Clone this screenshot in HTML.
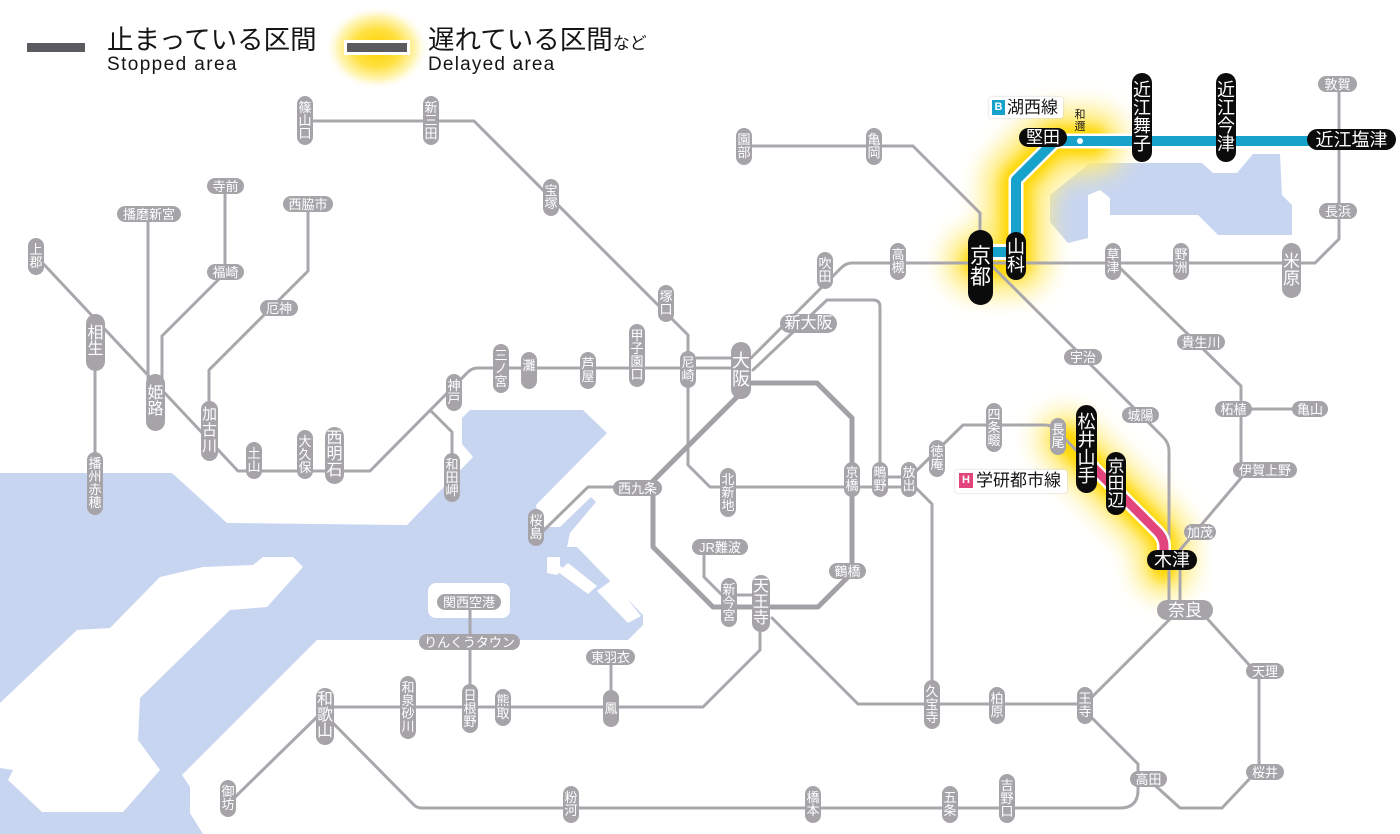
<!DOCTYPE html>
<html><head><meta charset="utf-8">
<style>
html,body{margin:0;padding:0;background:#fff}
#w{position:relative;width:1400px;height:834px;overflow:hidden;background:#fff;font-family:"Liberation Sans","Noto Sans CJK JP",sans-serif}
svg{position:absolute;left:0;top:0}
.p{position:absolute;box-sizing:border-box;background:#a6a4a8;color:#fff;border-radius:999px;text-align:center;white-space:nowrap;display:flex;align-items:center;justify-content:center;line-height:1;font-size:13px;height:16px}
.v{display:block;white-space:normal;word-break:break-all;width:16px;font-size:13px;line-height:13px}
.k{background:#0b0b0b}
.t{position:absolute;white-space:nowrap;color:#151515;line-height:1}
</style></head><body><div id="w">
<svg width="1400" height="834" viewBox="0 0 1400 834">
<defs>
<filter id="g1" x="-50%" y="-50%" width="200%" height="200%"><feGaussianBlur stdDeviation="12"/></filter>
<filter id="g2" x="-50%" y="-50%" width="200%" height="200%"><feGaussianBlur stdDeviation="6"/></filter>
<radialGradient id="rg"><stop offset="0" stop-color="#ffd200"/><stop offset="0.45" stop-color="#ffe040"/><stop offset="0.75" stop-color="#fff2a0" stop-opacity="0.8"/><stop offset="1" stop-color="#fff" stop-opacity="0"/></radialGradient>
</defs>
<!-- sea -->
<path fill="#c8d5f1" d="M0,473 L172,473 L227,523 L407,525 L473,457 L462,444 L462,418 L470,410 L583,410 L607,433 L536,505 L540,527 L560,527 L591,497 L596,502 L570,533 L567,547 L577,547 L643,615 L643,625 L628,640 L317,640 L182,775 L190,787 L190,813 L203,834 L0,834 Z"/>
<path fill="#fff" d="M0,703 L77,630 L110,628 L160,577 L203,567 L253,565 L263,557 L293,557 L303,567 L267,607 L230,610 L140,698 L138,740 L160,770 L123,812 L42,812 L8,780 L13,770 L0,768 Z"/>
<rect x="428" y="583" width="82" height="35" rx="8" fill="#fff"/>
<path fill="#fff" d="M547,557 L560,557 L560,566 L563,568 L557,575 L547,573 Z"/>
<path fill="#fff" d="M558,572 L568,563 L597,586 L588,594 Z"/>
<path fill="#fff" d="M597,591 L612,580 L641,616 L628,623 Z"/>
<!-- lake -->
<path fill="#c8d5f1" d="M1090,163 L1202,163 L1213,173 L1237,173 L1253,154 L1280,154 L1282,195 L1292,205 L1292,235 L1218,235 L1198,215 L1110,215 L1110,198 L1100,190 L1088,195 L1088,238 L1068,243 L1050,222 L1050,195 Z"/>
<!-- glows -->
<g fill="none" stroke-linecap="round" stroke-linejoin="round">
<path d="M978,262 H1016 V180 L1055,141 H1092" stroke="#ffec7a" stroke-width="66" filter="url(#g1)"/>
<path d="M978,262 H1016 V180 L1055,141 H1092" stroke="#ffd600" stroke-width="30" filter="url(#g2)"/>
<path d="M1066,440 L1157,531 Q1164,538 1164,546 V568" stroke="#ffec7a" stroke-width="58" filter="url(#g1)"/>
<path d="M1066,440 L1157,531 Q1164,538 1164,546 V568" stroke="#ffd600" stroke-width="26" filter="url(#g2)"/>
</g>
<ellipse cx="377" cy="48" rx="52" ry="42" fill="url(#rg)"/>
<!-- gray lines -->
<g fill="none" stroke="#a9a7ab" stroke-width="3" stroke-linejoin="round" stroke-linecap="round">
<path d="M305,121 H474 L666,313 L688,335 V369"/>
<path d="M688,369 V465 L710,487 H909"/>
<path d="M697,358 H735"/>
<path d="M741,368 H478 Q472,368 468,372 L370,471 H238 L36,256"/>
<path d="M95,342 V483"/>
<path d="M148,214 V402"/>
<path d="M162,402 V336 L225,273 V186"/>
<path d="M209,431 V370 L308,271 V204"/>
<path d="M432,412 L452,432 V477"/>
<path d="M744,146 H913 L980,213 V230"/>
<path d="M751,358 L841,268 Q846,263 852,263 H1315 L1339,239 V84"/>
<path d="M753,370 L827,300 H873 Q880,300 880,307 V477 H909"/>
<path d="M912,484 L932,504 V704"/>
<path d="M990,264 L1163,437 Q1169,443 1169,451 V610"/>
<path d="M772,618 L858,704 H1085 L1172,617"/>
<path d="M1180,612 V550 L1241,478 V386 L1120,268"/>
<path d="M1241,409 H1310"/>
<path d="M1203,614 L1252,668"/>
<path d="M1259,671 V772"/>
<path d="M1255,773 L1222,808 H1180 L1148,779"/>
<path d="M1138,779 V764 L1090,716"/>
<path d="M1138,779 V790 Q1138,808 1120,808 H422 Q417,808 414,805 L328,718"/>
<path d="M320,714 L230,802"/>
<path d="M760,603 V650 L703,707 H325"/>
<path d="M611,708 V657"/>
<path d="M470,708 V602"/>
<path d="M637,487 H588 L540,534"/>
<path d="M704,553 V577 L722,595 H761"/>
<path d="M909,478 L963,425 H1045 Q1052,425 1056,430 L1092,466"/>
</g>
<path d="M751,383 H817 L852,418 V573 L818,607 H713 L653,547 V481 L737,397" fill="none" stroke="#a3a1a5" stroke-width="5" stroke-linejoin="round"/>
<!-- Kosei line -->
<g fill="none" stroke-linejoin="round">
<path d="M990,252 H1010" stroke="#fff" stroke-width="16"/>
<path d="M990,252 H1010" stroke="#16a2cb" stroke-width="10"/>
<path d="M1016,242 V180 L1055,141 H1330" stroke="#fff" stroke-width="15"/>
<path d="M1016,242 V180 L1055,141 H1330" stroke="#16a2cb" stroke-width="10"/>
<path d="M1090,464 L1157,531 Q1164,538 1164,546 V556" stroke="#fff" stroke-width="14"/>
<path d="M1090,464 L1157,531 Q1164,538 1164,546 V556" stroke="#e1457c" stroke-width="9"/>
</g>
<circle cx="1080" cy="141" r="3" fill="#fff"/>
<!-- legend bars -->
<rect x="27" y="43" width="58" height="9" fill="#5b5a5e"/>
<rect x="344" y="40" width="66" height="15" fill="#fff"/>
<rect x="347" y="43" width="60" height="9" fill="#5b5a5e"/>
</svg>

<!-- legend text -->
<div class="t" style="left:107px;top:27px;font-size:26.5px">止まっている区間</div>
<div class="t" style="left:107px;top:55px;font-size:19px;letter-spacing:1.4px">Stopped area</div>
<div class="t" style="left:428px;top:27px;font-size:26.5px">遅れている区間<span style="font-size:17px">など</span></div>
<div class="t" style="left:428px;top:55px;font-size:19px;letter-spacing:1.2px">Delayed area</div>

<!-- line labels -->
<div style="position:absolute;left:989px;top:97px;width:74px;height:21px;background:#fff;border-radius:3px;box-shadow:0 0 2px #ccc"></div>
<div style="position:absolute;left:992px;top:100px;width:13px;height:15px;background:#16a2cb;color:#fff;font-size:11px;font-weight:bold;line-height:15px;text-align:center">B</div>
<div class="t" style="left:1007px;top:99px;font-size:17px">湖西線</div>
<div style="position:absolute;left:955px;top:470px;width:112px;height:23px;background:#fff;border-radius:3px;box-shadow:0 0 2px #ccc"></div>
<div style="position:absolute;left:959px;top:473px;width:14px;height:15px;background:#e1457c;color:#fff;font-size:11px;font-weight:bold;line-height:15px;text-align:center">H</div>
<div class="t" style="left:976px;top:472px;font-size:17px">学研都市線</div>
<div class="t" style="left:1074px;top:109px;width:12px;font-size:11px;line-height:12px;white-space:normal;text-align:center">和邇</div>

<!-- small vertical gray -->
<div class="p v" style="left:297px;top:96px;height:49px;padding-top:5px">篠山口</div>
<div class="p v" style="left:423px;top:96px;height:49px;padding-top:5px">新三田</div>
<div class="p v" style="left:28px;top:238px;height:37px;padding-top:5px">上郡</div>
<div class="p v" style="left:87px;top:452px;height:63px;padding-top:5px">播州赤穂</div>
<div class="p v" style="left:246px;top:442px;height:37px;padding-top:5px">土山</div>
<div class="p v" style="left:297px;top:430px;height:49px;padding-top:5px">大久保</div>
<div class="p v" style="left:543px;top:179px;height:37px;padding-top:5px">宝塚</div>
<div class="p v" style="left:658px;top:285px;height:37px;padding-top:5px">塚口</div>
<div class="p v" style="left:680px;top:351px;height:37px;padding-top:5px">尼崎</div>
<div class="p v" style="left:629px;top:324px;height:63px;padding-top:5px">甲子園口</div>
<div class="p v" style="left:580px;top:352px;height:37px;padding-top:5px">芦屋</div>
<div class="p v" style="left:521px;top:352px;height:37px;padding-top:7px">灘</div>
<div class="p v" style="left:493px;top:344px;height:49px;padding-top:5px">三ノ宮</div>
<div class="p v" style="left:446px;top:374px;height:37px;padding-top:5px">神戸</div>
<div class="p v" style="left:444px;top:453px;height:49px;padding-top:5px">和田岬</div>
<div class="p v" style="left:736px;top:128px;height:37px;padding-top:5px">園部</div>
<div class="p v" style="left:866px;top:128px;height:37px;padding-top:5px">亀岡</div>
<div class="p v" style="left:817px;top:252px;height:37px;padding-top:5px">吹田</div>
<div class="p v" style="left:890px;top:243px;height:37px;padding-top:5px">高槻</div>
<div class="p v" style="left:720px;top:468px;height:49px;padding-top:5px">北新地</div>
<div class="p v" style="left:844px;top:462px;height:35px;padding-top:4px">京橋</div>
<div class="p v" style="left:872px;top:462px;height:35px;padding-top:4px">鴫野</div>
<div class="p v" style="left:901px;top:462px;height:35px;padding-top:4px">放出</div>
<div class="p v" style="left:929px;top:440px;height:37px;padding-top:5px">徳庵</div>
<div class="p v" style="left:986px;top:403px;height:49px;padding-top:5px">四条畷</div>
<div class="p v" style="left:1050px;top:418px;height:37px;padding-top:5px">長尾</div>
<div class="p v" style="left:1105px;top:243px;height:37px;padding-top:5px">草津</div>
<div class="p v" style="left:1173px;top:243px;height:37px;padding-top:5px">野洲</div>
<div class="p v" style="left:528px;top:509px;height:37px;padding-top:5px">桜島</div>
<div class="p v" style="left:721px;top:578px;height:49px;padding-top:5px">新今宮</div>
<div class="p v" style="left:924px;top:680px;height:49px;padding-top:5px">久宝寺</div>
<div class="p v" style="left:989px;top:687px;height:37px;padding-top:5px">柏原</div>
<div class="p v" style="left:1077px;top:687px;height:37px;padding-top:5px">王寺</div>
<div class="p v" style="left:999px;top:774px;height:49px;padding-top:5px">吉野口</div>
<div class="p v" style="left:942px;top:786px;height:37px;padding-top:5px">五条</div>
<div class="p v" style="left:805px;top:786px;height:37px;padding-top:5px">橋本</div>
<div class="p v" style="left:563px;top:786px;height:37px;padding-top:5px">粉河</div>
<div class="p v" style="left:220px;top:780px;height:37px;padding-top:5px">御坊</div>
<div class="p v" style="left:400px;top:676px;height:63px;padding-top:5px">和泉砂川</div>
<div class="p v" style="left:462px;top:684px;height:49px;padding-top:5px">日根野</div>
<div class="p v" style="left:495px;top:689px;height:37px;padding-top:5px">熊取</div>
<div class="p v" style="left:603px;top:690px;height:37px;padding-top:12px">鳳</div>

<!-- big vertical gray -->
<div class="p v" style="left:86px;top:314px;width:19px;height:57px;font-size:16px;line-height:16px;padding-top:12px">相生</div>
<div class="p v" style="left:146px;top:374px;width:19px;height:57px;font-size:16px;line-height:16px;padding-top:12px">姫路</div>
<div class="p v" style="left:201px;top:401px;width:17px;height:60px;font-size:15px;line-height:16px;padding-top:6px">加古川</div>
<div class="p v" style="left:325px;top:427px;width:19px;height:57px;font-size:16px;line-height:16px;padding-top:4px">西明石</div>
<div class="p v" style="left:731px;top:342px;width:20px;height:57px;font-size:18px;line-height:18px;padding-top:10px">大阪</div>
<div class="p v" style="left:1282px;top:243px;width:19px;height:55px;font-size:17px;line-height:17px;padding-top:10px">米原</div>
<div class="p v" style="left:752px;top:575px;width:18px;height:57px;font-size:16px;line-height:16px;padding-top:4px">天王寺</div>
<div class="p v" style="left:316px;top:688px;width:18px;height:57px;font-size:16px;line-height:16px;padding-top:4px">和歌山</div>

<!-- black vertical -->
<div class="p v k" style="left:968px;top:230px;width:25px;height:75px;font-size:21px;line-height:21px;padding-top:16px">京都</div>
<div class="p v k" style="left:1006px;top:232px;width:20px;height:48px;font-size:18px;line-height:18px;padding-top:6px">山科</div>
<div class="p v k" style="left:1132px;top:73px;width:20px;height:89px;font-size:18px;line-height:18px;padding-top:8px">近江舞子</div>
<div class="p v k" style="left:1216px;top:73px;width:20px;height:89px;font-size:18px;line-height:18px;padding-top:8px">近江今津</div>
<div class="p v k" style="left:1076px;top:405px;width:21px;height:88px;font-size:18px;line-height:18px;padding-top:8px">松井山手</div>
<div class="p v k" style="left:1106px;top:452px;width:20px;height:63px;font-size:17px;line-height:17px;padding-top:6px">京田辺</div>

<!-- horizontal gray -->
<div class="p" style="left:207px;top:178px;width:37px">寺前</div>
<div class="p" style="left:283px;top:196px;width:50px">西脇市</div>
<div class="p" style="left:117px;top:206px;width:64px">播磨新宮</div>
<div class="p" style="left:207px;top:264px;width:37px">福崎</div>
<div class="p" style="left:260px;top:300px;width:38px">厄神</div>
<div class="p" style="left:613px;top:480px;width:49px">西九条</div>
<div class="p" style="left:692px;top:539px;width:56px">JR難波</div>
<div class="p" style="left:829px;top:563px;width:37px">鶴橋</div>
<div class="p" style="left:1064px;top:349px;width:38px">宇治</div>
<div class="p" style="left:1122px;top:407px;width:37px">城陽</div>
<div class="p" style="left:1177px;top:334px;width:48px">貴生川</div>
<div class="p" style="left:1215px;top:401px;width:37px">柘植</div>
<div class="p" style="left:1292px;top:401px;width:36px">亀山</div>
<div class="p" style="left:1233px;top:462px;width:64px">伊賀上野</div>
<div class="p" style="left:1184px;top:524px;width:32px">加茂</div>
<div class="p" style="left:1246px;top:663px;width:38px">天理</div>
<div class="p" style="left:1246px;top:764px;width:38px">桜井</div>
<div class="p" style="left:1130px;top:771px;width:37px">高田</div>
<div class="p" style="left:1318px;top:76px;width:39px">敦賀</div>
<div class="p" style="left:1319px;top:203px;width:38px">長浜</div>
<div class="p" style="left:437px;top:594px;width:64px">関西空港</div>
<div class="p" style="left:419px;top:634px;width:101px">りんくうタウン</div>
<div class="p" style="left:586px;top:649px;width:49px">東羽衣</div>
<div class="p" style="left:780px;top:314px;width:57px;height:19px;font-size:16px">新大阪</div>
<div class="p" style="left:1157px;top:600px;width:56px;height:20px;font-size:17px">奈良</div>

<!-- black horizontal -->
<div class="p k" style="left:1019px;top:128px;width:48px;height:19px;font-size:17px">堅田</div>
<div class="p k" style="left:1307px;top:129px;width:89px;height:21px;font-size:18px">近江塩津</div>
<div class="p k" style="left:1147px;top:550px;width:50px;height:20px;font-size:18px">木津</div>
</div></body></html>
